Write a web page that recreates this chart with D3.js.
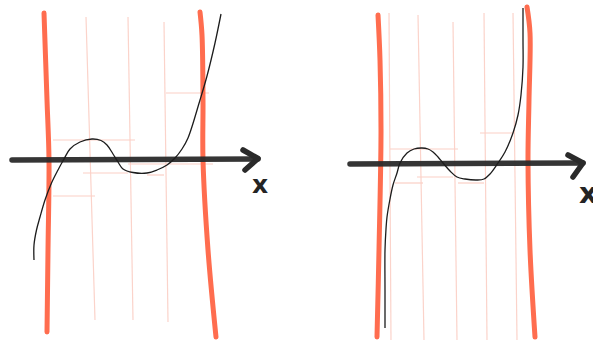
<!DOCTYPE html>
<html>
<head>
<meta charset="utf-8">
<script src="https://cdn.jsdelivr.net/npm/d3@7"></script>
<style>
  html, body { margin: 0; padding: 0; background: #fff; }
  svg { display: block; }
</style>
</head>
<body>
<svg id="chart" width="593" height="341"></svg>
<script>
// ---- Data (sketch units: x along panel, y = height above the x axis) ----
// Left panel
const leftCurve = [[34,-100],[34,-85],[36.5,-70],[40,-57],[45,-40],[51.5,-23],[58,-10],[64,1],[70,11],[80,18],[92,21],[101,19.5],[107,15],[113,6],[118,-2],[123,-9],[133,-12.5],[147,-13],[157,-10],[167,-5],[175,2],[182,11],[188,22],[200,60],[207,84],[215,117],[221,146]];
const leftBoundA = [[44,147],[47,60],[49,0],[48,-90],[47,-172]];
const leftBoundB = [[200,148],[202,125],[203,60],[203,0],[208,-90],[216,-177]];
const leftGuideV = [[[86,143],[95,-160]], [[128,143],[133,-160]], [[164,138],[168,-162]]];
const leftGuideH = [[53,135,20],[83,128,-13],[128,213,-4],[147,164,-15],[166,209,67],[53,95,-36]];
const leftAxis = [[12,0],[258,1]];
const leftArrow = [[243,10],[258,1.5],[245,-10]];
const leftLabel = [252,-33];

// Right panel
const rightCurve = [[45,-165],[45,-127],[45,-87],[46,-66],[47,-54],[50,-36],[53,-22],[57,-10],[60,0],[67,10],[74,14],[82,15],[88,14],[93,11],[98,6],[103,0],[110,-8],[117,-14],[125,-16],[137,-17],[144,-16],[150,-11],[158,0],[165,11],[173,30],[178,48],[181,68],[183,96],[183,123],[183,155]];
const rightBoundA = [[38,148],[40,103],[41,30],[39,-87],[37,-174]];
const rightBoundB = [[187,156],[190,130],[189,63],[188,3],[190,-87],[195,-174]];
const rightGuideV = [[[49,150],[51,-177]], [[78,148],[84,-177]], [[113,141],[117,-177]], [[144,150],[147,-177]], [[173,150],[177,-177]]];
const rightGuideH = [[50,118,14],[77,113,-14],[55,83,-20],[118,144,-20],[140,173,30]];
const rightAxis = [[10,-1],[243,0]];
const rightArrow = [[228,8],[243,0],[233,-14]];
const rightLabel = [239,-40];

const axisLabel = "x";

const panels = [
  {offset: 0,   axisY: 160, curve: leftCurve,  bounds: [leftBoundA, leftBoundB],  gv: leftGuideV,  gh: leftGuideH,  axis: leftAxis,  arrow: leftArrow,  label: leftLabel,  fs: 25},
  {offset: 340, axisY: 163, curve: rightCurve, bounds: [rightBoundA, rightBoundB], gv: rightGuideV, gh: rightGuideH, axis: rightAxis, arrow: rightArrow, label: rightLabel, fs: 29}
];

const svg = d3.select("#chart");
svg.append("rect").attr("width", 593).attr("height", 341).attr("fill", "#fff");

panels.forEach(p => {
  const x = d3.scaleLinear().domain([0, 300]).range([p.offset, p.offset + 300]);
  const y = d3.scaleLinear().domain([0, 100]).range([p.axisY, p.axisY - 100]);
  const g = svg.append("g");
  const smooth = d3.line().x(d => x(d[0])).y(d => y(d[1])).curve(d3.curveCatmullRom.alpha(0.5));
  const straight = d3.line().x(d => x(d[0])).y(d => y(d[1]));

  // light guide lines
  g.selectAll(".gv").data(p.gv).join("path")
    .attr("d", straight).attr("fill", "none")
    .attr("stroke", "#fbd3ca").attr("stroke-width", 1.2);
  g.selectAll(".gh").data(p.gh).join("path")
    .attr("d", d => straight([[d[0], d[2]], [d[1], d[2]]])).attr("fill", "none")
    .attr("stroke", "#fbcfc5").attr("stroke-width", 1.2);

  // red boundary lines
  g.selectAll(".bd").data(p.bounds).join("path")
    .attr("d", smooth).attr("fill", "none")
    .attr("stroke", "#ff6d4f").attr("stroke-width", 5).attr("stroke-linecap", "round");

  // x axis with arrow
  g.append("path").attr("d", straight(p.axis)).attr("fill", "none")
    .attr("stroke", "#2a2a2a").attr("stroke-width", 5.5).attr("stroke-linecap", "round")
    .attr("opacity", 0.95);
  g.append("path").attr("d", straight(p.arrow)).attr("fill", "none")
    .attr("stroke", "#2a2a2a").attr("stroke-width", 5.5).attr("stroke-linecap", "round")
    .attr("stroke-linejoin", "round");
  g.append("text").attr("x", x(p.label[0])).attr("y", y(p.label[1]))
    .attr("font-family", "DejaVu Sans").attr("font-weight", "bold")
    .attr("font-size", p.fs).attr("fill", "#242424").text(axisLabel);

  // function curve
  g.append("path").attr("d", smooth(p.curve)).attr("fill", "none")
    .attr("stroke", "#1c1c1c").attr("stroke-width", 1.3);
});
</script>
</body>
</html>
